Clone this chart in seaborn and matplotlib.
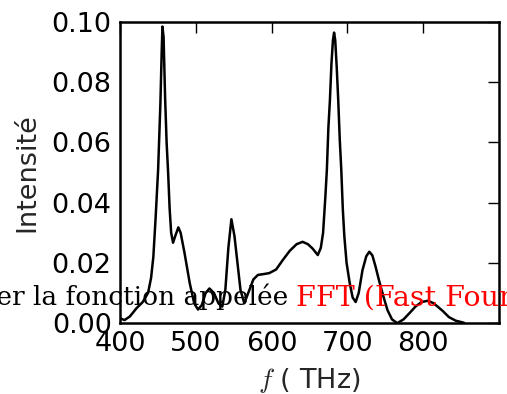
import numpy as np
import pandas as pd
import matplotlib
matplotlib.use("Agg")
import matplotlib.pyplot as plt
import seaborn as sns
from matplotlib.ticker import FormatStrFormatter

# Spectrum
freq = [400, 406, 413, 422, 430, 437, 441, 444, 447, 450.3, 453.3, 455, 456, 457.5, 459.5,
        461.5, 463.5, 465.5, 467.5, 470, 473, 477, 480, 485, 492, 498, 503, 508, 513, 518,
        524, 530, 535, 539, 543, 547, 551, 555, 559, 564, 570, 576, 582, 590, 597, 606,
        615, 624, 633, 641, 648, 654, 661, 665, 668, 671, 673, 675, 677, 679, 681, 682.5,
        684, 686, 688, 690, 692, 694, 696, 699, 703, 707, 711, 715, 720, 725, 729, 733,
        737, 742, 748, 753, 759, 766, 774, 782, 790, 798, 806, 813, 820, 826, 834, 843, 854]
intensity = [0.0016, 0.0010, 0.0022, 0.0050, 0.0070, 0.0100, 0.0150, 0.0220, 0.0350, 0.0510,
             0.0730, 0.0900, 0.0985, 0.0950, 0.0750, 0.0600, 0.0500, 0.0380, 0.0300, 0.0267,
             0.0290, 0.0318, 0.0300, 0.0235, 0.0133, 0.0065, 0.0045, 0.0060, 0.0100, 0.0115,
             0.0100, 0.0065, 0.0055, 0.0110, 0.0250, 0.0345, 0.0290, 0.0200, 0.0110, 0.0066,
             0.0105, 0.0145, 0.0160, 0.0163, 0.0166, 0.0178, 0.0210, 0.0240, 0.0262, 0.0270,
             0.0262, 0.0248, 0.0226, 0.0250, 0.0300, 0.0420, 0.0510, 0.0650, 0.0740, 0.0860,
             0.0940, 0.0965, 0.0940, 0.0850, 0.0740, 0.0610, 0.0510, 0.0380, 0.0290, 0.0200,
             0.0135, 0.0085, 0.0070, 0.0100, 0.0176, 0.0222, 0.0237, 0.0225, 0.0190, 0.0140,
             0.0085, 0.0043, 0.0012, 0.0000, 0.0012, 0.0033, 0.0055, 0.0070, 0.0074, 0.0067,
             0.0053, 0.0040, 0.0020, 0.0008, 0.0001]
x_ticks = [400, 500, 600, 700, 800]
y_ticks = [0.00, 0.02, 0.04, 0.06, 0.08, 0.10]

df = pd.DataFrame({"f": freq, "I": intensity})

sns.set_style("white")
plt.rcParams["font.family"] = ["DejaVu Sans"]
plt.rcParams["mathtext.fontset"] = "cm"
plt.rcParams["font.size"] = 19.5
plt.rcParams["xtick.direction"] = "in"
plt.rcParams["ytick.direction"] = "in"

fig = plt.figure(figsize=(5.07, 3.94), dpi=100)
ax = fig.add_axes([0.2367, 0.180, 0.7473, 0.764])

sns.lineplot(data=df, x="f", y="I", color="black", linewidth=1.8, ax=ax)

ax.set_xlim(400, 900)
ax.set_ylim(0, 0.10)
ax.set_xticks(x_ticks)
ax.set_yticks(y_ticks)
ax.yaxis.set_major_formatter(FormatStrFormatter("%.2f"))
ax.tick_params(which="major", length=8, width=1, top=True, right=True,
               labelsize=19.5, pad=6, colors="black")
for s in ax.spines.values():
    s.set_linewidth(1.8)
    s.set_color("black")
    s.set_visible(True)
ax.set_xlabel(r"$f$ ( THz)", fontsize=19.5, labelpad=6)
ax.set_ylabel("Intensité", fontsize=19.5, labelpad=8)

# overlaid page text
fig.text(0.568, 0.225, "utiliser la fonction appelée", ha="right", va="baseline",
         fontsize=19, family="DejaVu Serif", color="black", zorder=10)
fig.text(0.584, 0.225, "FFT (Fast Fourier Transform)", ha="left", va="baseline",
         fontsize=20.5, family="DejaVu Serif", color="red", zorder=10)

fig.savefig("out.png", dpi=100)
